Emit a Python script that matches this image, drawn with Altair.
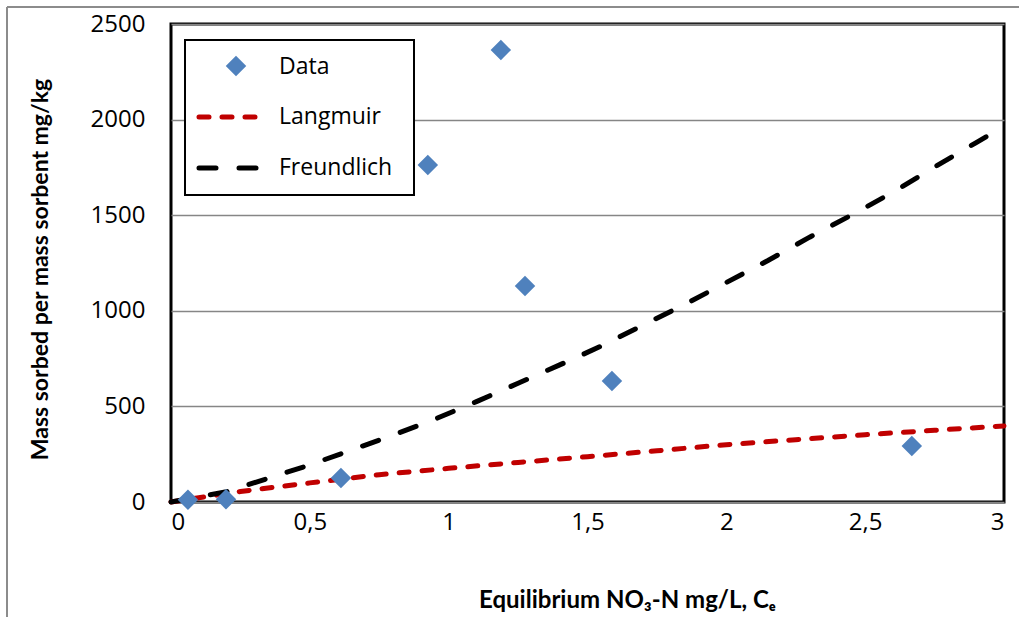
import altair as alt
import pandas as pd

# Measured data (Ce, q)
data_ce = [0.061, 0.198, 0.612, 0.925, 1.188, 1.275, 1.588, 2.668]
data_q = [12, 15, 125, 1762, 2364, 1130, 633, 293]

# Langmuir fit curve
lang_ce = [0, 0.25, 0.5, 0.75, 1.0, 1.25, 1.5, 1.75, 2.0, 2.25, 2.5, 2.75, 3.0]
lang_q = [0, 55, 100, 143, 176, 207, 237, 268, 300, 326, 352, 375, 398]

# Freundlich fit curve
freu_ce = [0, 0.2, 0.35, 0.5, 0.65, 0.8, 0.95, 1.1, 1.25, 1.4, 1.55, 1.7, 1.85,
           2.0, 2.15, 2.3, 2.45, 2.6, 2.75, 2.9, 3.0]
freu_q = [0, 54, 124, 194, 272, 350, 433, 525, 621, 717, 816, 925, 1033,
          1148, 1263, 1385, 1500, 1620, 1752, 1880, 1965]

x_ticks = [0, 0.5, 1, 1.5, 2, 2.5, 3]
y_ticks = [0, 500, 1000, 1500, 2000, 2500]
legend_labels = ["Data", "Langmuir", "Freundlich"]

FONT = "Open Sans"
TFONT = "Lato"
W, H = 833, 478

df_data = pd.DataFrame({"ce": data_ce, "q": data_q})
df_lang = pd.DataFrame({"ce": lang_ce, "q": lang_q})
df_freu = pd.DataFrame({"ce": freu_ce, "q": freu_q})
one = pd.DataFrame({"a": [0]})

x_scale = alt.Scale(domain=[0, 3], nice=False, zero=False)
y_scale = alt.Scale(domain=[0, 2500], nice=False)

x_enc = alt.X(
    "ce:Q", scale=x_scale,
    axis=alt.Axis(
        values=x_ticks, title="Equilibrium NO₃-N mg/L, Cₑ",
        labelExpr="replace(format(datum.value, '~g'), '.', ',')",
        grid=False, ticks=False, domain=False, labelPadding=8,
        labelFontSize=24, labelFont=FONT, labelColor="#000",
        titleFont=TFONT, titleFontSize=24, titleFontWeight="bold", titleColor="#000",
        titleX=456, titleY=98, titleAlign="center", titleBaseline="middle",
    ),
)
y_enc = alt.Y(
    "q:Q", scale=y_scale,
    axis=alt.Axis(
        values=y_ticks, title="Mass sorbed per mass sorbent mg/kg", format="d",
        grid=True, gridColor="#868686", gridWidth=1.5,
        ticks=False, domain=False, labelPadding=26,
        labelFontSize=24, labelFont=FONT, labelColor="#000",
        titleFont=TFONT, titleFontSize=23, titleFontWeight="bold", titleColor="#000",
        titleX=-131, titleY=245, titleAngle=-90, titleAlign="center", titleBaseline="middle",
    ),
)

lang = alt.Chart(df_lang).mark_line(
    color="#C00000", strokeWidth=5, strokeDash=[10, 13], strokeCap="round"
).encode(x=x_enc, y=y_enc)

freu = alt.Chart(df_freu).mark_line(
    color="#000000", strokeWidth=5, strokeDash=[17, 23], strokeCap="round"
).encode(x="ce:Q", y="q:Q")

pts = alt.Chart(df_data).mark_point(
    shape="diamond", filled=True, size=420, color="#4F81BD", opacity=1
).encode(x="ce:Q", y="q:Q")

# Outer gray chart frame
frame_top = alt.Chart(one).mark_rule(color="#8c8c8c", strokeWidth=2).encode(
    x=alt.value(-164), x2=alt.value(860), y=alt.value(-17))
frame_left = alt.Chart(one).mark_rule(color="#8c8c8c", strokeWidth=2).encode(
    x=alt.value(-164), y=alt.value(-17), y2=alt.value(610))

# Manual legend
leg_box = alt.Chart(one).mark_rect(fill="white", stroke="black", strokeWidth=2).encode(
    x=alt.value(14), x2=alt.value(243), y=alt.value(16), y2=alt.value(171))
leg_pt = alt.Chart(one).mark_point(
    shape="diamond", filled=True, size=420, color="#4F81BD", opacity=1
).encode(x=alt.value(65), y=alt.value(42))
leg_lang = alt.Chart(one).mark_rule(
    color="#C00000", strokeWidth=5, strokeDash=[10, 13], strokeCap="round"
).encode(x=alt.value(28), x2=alt.value(96), y=alt.value(93))
leg_freu = alt.Chart(one).mark_rule(
    color="#000000", strokeWidth=5, strokeDash=[17, 23], strokeCap="round"
).encode(x=alt.value(28), x2=alt.value(96), y=alt.value(144))

leg_texts = []
for label, ypos in zip(legend_labels, [43, 93, 144]):
    leg_texts.append(
        alt.Chart(one).mark_text(
            align="left", baseline="middle", font=FONT, fontSize=23, color="#000", text=label
        ).encode(x=alt.value(108), y=alt.value(ypos))
    )

chart = alt.layer(
    frame_top, frame_left, lang, freu, pts, leg_box, leg_pt, leg_lang, leg_freu, *leg_texts
).properties(
    width=W, height=H,
    autosize=alt.AutoSizeParams(type="none"),
    padding={"left": 171, "top": 24, "right": 15, "bottom": 115},
    background="white",
).configure_view(stroke="black", strokeWidth=3)

chart.save("out.html", embed_options={"renderer": "svg", "actions": False})
